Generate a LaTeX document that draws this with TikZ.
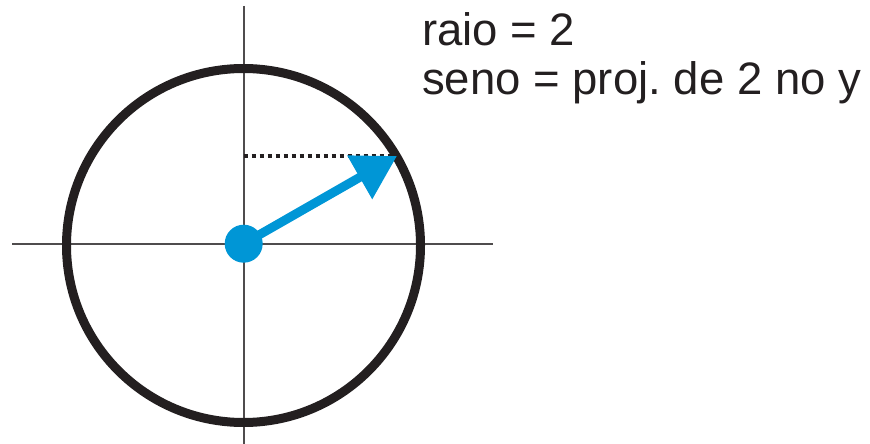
\documentclass[tikz,border=0pt]{standalone}
\usepackage{fontspec}
\setmainfont{Liberation Sans}
\usetikzlibrary{arrows.meta}
\definecolor{ink}{HTML}{231F20}
\definecolor{vblue}{RGB}{0,150,214}
\frenchspacing
\begin{document}
\begin{tikzpicture}[x=1pt,y=-1pt,
  axis/.style={line width=1.6pt,draw=ink!80},
  rim/.style={line width=9pt,draw=ink},
  proj/.style={line width=3.8pt,draw=ink,dash pattern=on 4pt off 4pt},
  vec/.style={line width=9pt,draw=vblue,-{Triangle[length=43pt,width=48pt]}},
  lbl/.style={anchor=base west,inner sep=0pt,font=\fontsize{45.5}{49}\selectfont\frenchspacing,text=ink}]
\useasboundingbox (0,0) rectangle (870,444);
\coordinate (O) at (243.7,243.7);
\coordinate (C) at (243.5,245.5);
\coordinate (P) at (397,156);
\coordinate (Q) at (243.7,156);
\coordinate (xl) at (12,243.7);
\coordinate (xr) at (493,243.7);
\coordinate (yt) at (243.7,6);
\coordinate (yb) at (243.7,444);
\draw[axis] (xl) -- (xr);
\draw[axis] (yt) -- (yb);
\draw[rim] (C) circle[radius=177];
\draw[proj] (Q) -- (P);
\draw[vec] (O) -- (P);
\node[circle,fill=vblue,minimum size=38pt,inner sep=0pt] (dot) at (O) {};
\node[lbl] (t1) at (422,46) {raio = 2};
\node[lbl] (t2) at (422,95) {seno = proj. de 2 no y};
\end{tikzpicture}
\end{document}
